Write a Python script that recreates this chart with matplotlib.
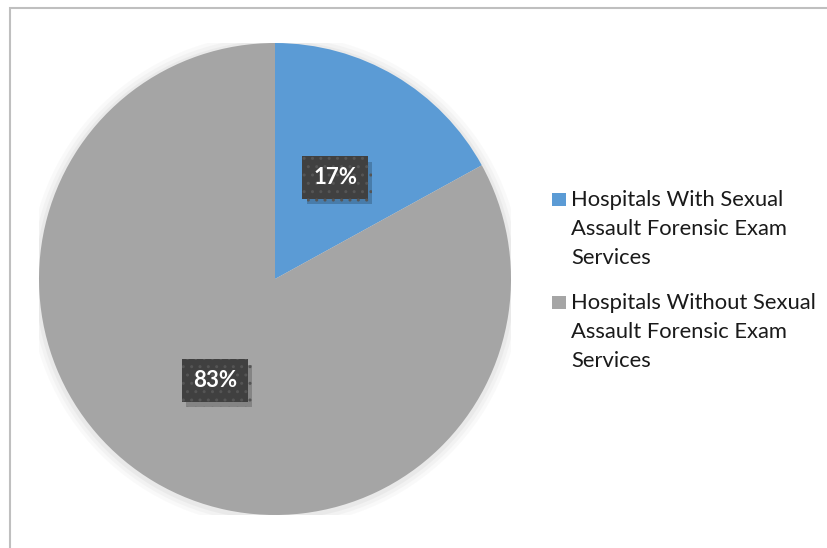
import numpy as np
import matplotlib.pyplot as plt
import matplotlib.patheffects as pe
from matplotlib.patches import Circle, Rectangle

plt.rcParams['font.family'] = ['Lato', 'DejaVu Sans']

labels = ["Hospitals With Sexual\nAssault Forensic Exam\nServices",
          "Hospitals Without Sexual\nAssault Forensic Exam\nServices"]
shares = [17, 83]
colors = ["#5B9BD5", "#A5A5A5"]

fig = plt.figure(figsize=(8.27, 5.48), dpi=100)

# chart area border (gray, runs off the right/bottom)
fig.patches.append(Rectangle((9.5 / 827, -0.05), 1.2, 1 - 7.5 / 548 + 0.05,
                             transform=fig.transFigure, fill=False,
                             edgecolor="#BFBFBF", lw=1.5, zorder=0))

ax = fig.add_axes([39 / 827, 1 - 515 / 548, 472 / 827, 472 / 548])

# soft shadow around pie
for r, a in [(1.045, 0.04), (1.03, 0.05), (1.015, 0.07)]:
    ax.add_patch(Circle((0, -0.005), r, color="#7f7f7f", alpha=a, lw=0, zorder=0))

wedges, _, autotexts = ax.pie(shares, colors=colors, startangle=90,
                              counterclock=False, autopct="%1.0f%%",
                              pctdistance=0.5, radius=1,
                              wedgeprops=dict(lw=0, zorder=2))
for t in autotexts:
    t.set_color("white")
    t.set_fontweight("bold")
    t.set_fontsize(16)
    t.set_zorder(5)
    t.set_bbox(dict(boxstyle="square,pad=0.48", facecolor="#404040",
                    edgecolor="#555555", hatch="..", lw=0))
    t.get_bbox_patch().set_path_effects(
        [pe.SimplePatchShadow(offset=(3, -4), shadow_rgbFace="black", alpha=0.2),
         pe.Normal()])
ax.set_xlim(-1, 1)
ax.set_ylim(-1, 1)
ax.set_aspect("equal")
ax.axis("off")

# legend: square marker beside the first line of each wrapped label
y0, step = 1 - 190 / 548, 103 / 548
for i, (lab, c) in enumerate(zip(labels, colors)):
    y = y0 - i * step
    fig.patches.append(Rectangle((552 / 827, y - 16 / 548), 14 / 827, 13 / 548,
                                 transform=fig.transFigure, facecolor=c,
                                 edgecolor="none"))
    fig.text(571 / 827, y, lab, ha="left", va="top", fontsize=15.8,
             linespacing=1.56, color="#1a1a1a")

fig.savefig("out.png", dpi=100)
